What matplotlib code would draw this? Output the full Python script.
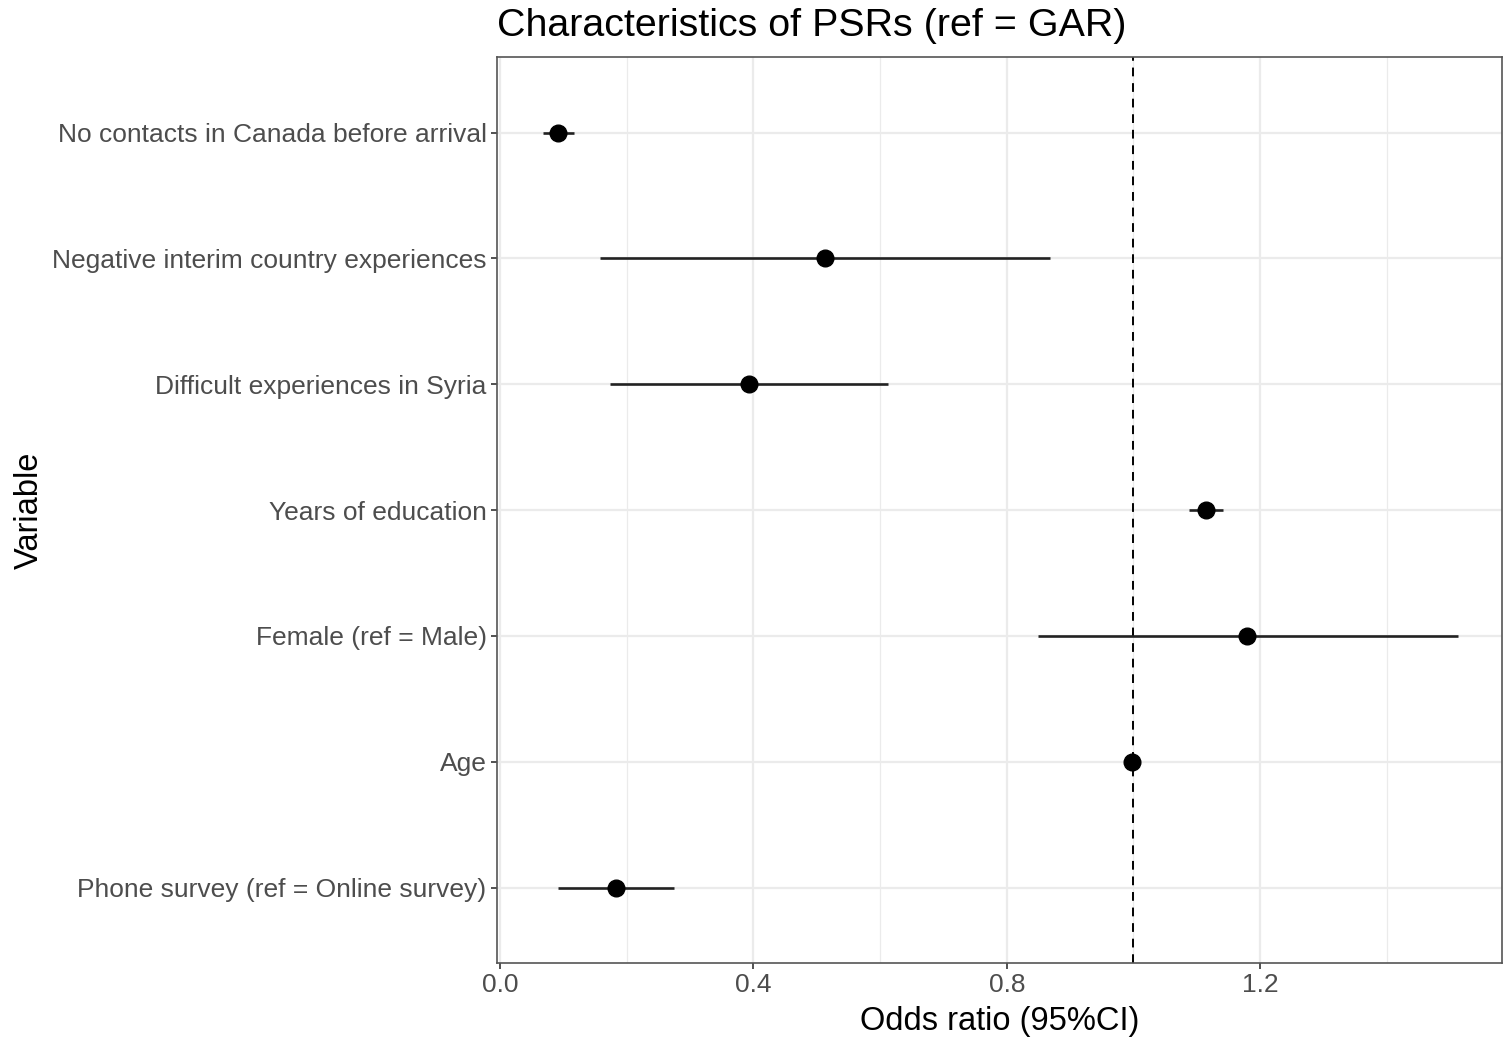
import numpy as np
import matplotlib
matplotlib.use("Agg")
import matplotlib.pyplot as plt
from matplotlib.ticker import MultipleLocator

# values, listed top to bottom
variables = [
    "No contacts in Canada before arrival",
    "Negative interim country experiences",
    "Difficult experiences in Syria",
    "Years of education",
    "Female (ref = Male)",
    "Age",
    "Phone survey (ref = Online survey)",
]
odds_ratio = [0.092, 0.513, 0.393, 1.114, 1.180, 0.997, 0.183]
ci_low = [0.067, 0.158, 0.174, 1.088, 0.849, 0.985, 0.091]
ci_high = [0.117, 0.868, 0.612, 1.141, 1.512, 1.010, 0.274]

x_ticks = [0.0, 0.4, 0.8, 1.2]
ref_line = 1.0

plt.rcParams['font.family'] = ['Liberation Sans', 'DejaVu Sans']

fig = plt.figure(figsize=(15.11, 10.42), dpi=100)
ax = fig.add_axes([497 / 1511, 1 - 963 / 1042, (1502 - 497) / 1511, (963 - 57) / 1042])

ypos = np.arange(len(variables))[::-1]

# grid like theme_bw
ax.set_axisbelow(True)
ax.xaxis.set_major_locator(MultipleLocator(0.4))
ax.xaxis.set_minor_locator(MultipleLocator(0.2))
ax.grid(which='major', color='#EBEBEB', linewidth=1.6)
ax.grid(which='minor', axis='x', color='#EBEBEB', linewidth=0.9)

ax.axvline(ref_line, color='black', linestyle=(0, (4.5, 3.5)), linewidth=1.4, zorder=2)
ax.hlines(ypos, ci_low, ci_high, color='#222222', linewidth=1.9, zorder=3)
ax.plot(odds_ratio, ypos, 'o', color='black', markersize=12, zorder=4)

ax.set_xlim(-0.005, 1.582)
ax.set_ylim(-0.6, len(variables) - 1 + 0.6)
ax.set_xticks(x_ticks)
ax.set_xticklabels([f"{t:.1f}" for t in x_ticks])
ax.set_yticks(ypos)
ax.set_yticklabels(variables)

ax.tick_params(axis='both', which='major', labelsize=19, labelcolor='#4D4D4D',
               color='#333333', length=4.5, width=1.2, pad=3)
ax.tick_params(axis='x', which='minor', length=0)

for s in ax.spines.values():
    s.set_color('#555555')
    s.set_linewidth(1.2)

ax.set_xlabel("Odds ratio (95%CI)", fontsize=23.5, color='black', labelpad=6)
ax.set_ylabel("Variable", fontsize=23.5, color='black', labelpad=5)
ax.set_title("Characteristics of PSRs (ref = GAR)", fontsize=28.4, color='black',
             loc='left', pad=15)

fig.savefig("out.png", dpi=100)
